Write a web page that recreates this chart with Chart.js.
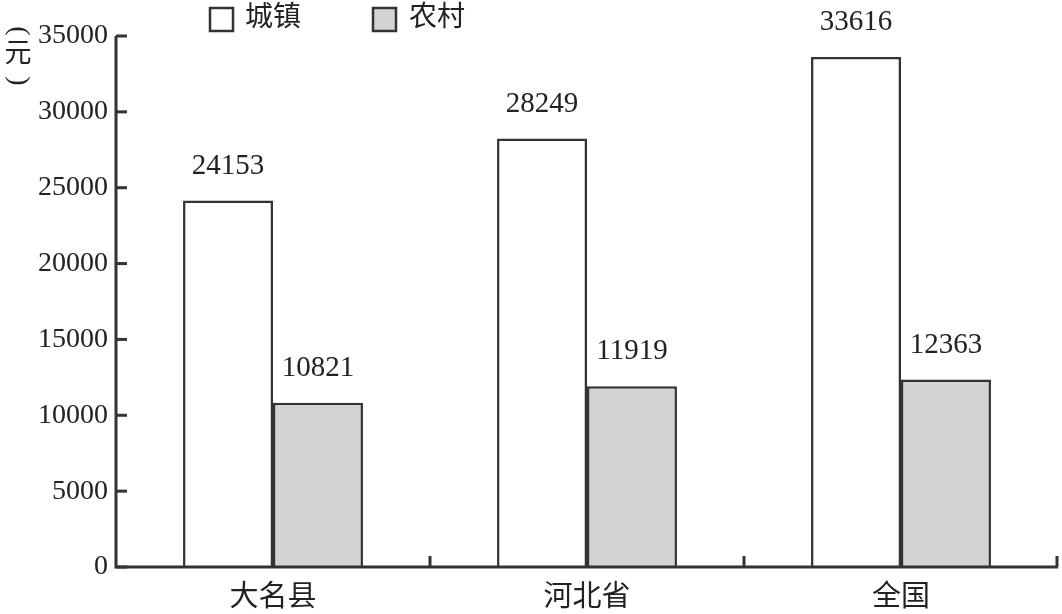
<!DOCTYPE html>
<html>
<head>
<meta charset="utf-8">
<script src="https://cdn.jsdelivr.net/npm/chart.js@4"></script>
<style>
  html, body { margin: 0; padding: 0; background: #fff; }
  #wrap { width: 1062px; height: 614px; }
</style>
</head>
<body>
<div id="wrap"><canvas id="chart" width="1062" height="614"></canvas></div>
<script>
// categories and series
const regions = ['大名县', '河北省', '全国'];
const urbanIncome = [24153, 28249, 33616];
const ruralIncome = [10821, 11919, 12363];
const seriesNames = ['城镇', '农村'];
const yTicks = [0, 5000, 10000, 15000, 20000, 25000, 30000, 35000];

const fontSerif = '"Liberation Serif", "Noto Sans CJK SC", serif';
const ink = '#333';

// draws the inward ticks, value labels, legend and the vertical unit label
const extras = {
  id: 'extras',
  afterDatasetsDraw(chart) {
    const ctx = chart.ctx;
    const x = chart.scales.x;
    const y = chart.scales.y;
    const area = chart.chartArea;

    ctx.save();
    ctx.strokeStyle = ink;
    ctx.lineWidth = 3;
    // axes
    ctx.beginPath();
    ctx.moveTo(area.left, area.top);
    ctx.lineTo(area.left, area.bottom);
    ctx.lineTo(area.right, area.bottom);
    ctx.stroke();
    // y ticks pointing into the plot
    yTicks.forEach(v => {
      const py = y.getPixelForValue(v);
      ctx.beginPath();
      ctx.moveTo(area.left, py);
      ctx.lineTo(area.left + 11, py);
      ctx.stroke();
    });
    // x ticks at category boundaries
    for (let i = 1; i <= regions.length; i++) {
      const px = (x.getPixelForValue(i - 1) + x.getPixelForValue(i)) / 2;
      const bx = i === regions.length ? area.right - 1 : px;
      ctx.beginPath();
      ctx.moveTo(bx, area.bottom);
      ctx.lineTo(bx, area.bottom - 11);
      ctx.stroke();
    }

    // value labels
    ctx.fillStyle = '#222';
    ctx.font = '29px ' + fontSerif;
    ctx.textAlign = 'center';
    ctx.textBaseline = 'bottom';
    chart.data.datasets.forEach((ds, di) => {
      chart.getDatasetMeta(di).data.forEach((bar, i) => {
        ctx.fillText(String(ds.data[i]), bar.x, bar.y - 20);
      });
    });

    // legend
    const items = [
      { box: 210, text: 245, fill: '#fff' },
      { box: 373, text: 409, fill: '#d3d3d3' }
    ];
    ctx.font = '28px ' + fontSerif;
    ctx.textAlign = 'left';
    ctx.textBaseline = 'middle';
    items.forEach((it, i) => {
      ctx.fillStyle = it.fill;
      ctx.fillRect(it.box, 8, 23, 23);
      ctx.lineWidth = 2.5;
      ctx.strokeRect(it.box, 8, 23, 23);
      ctx.fillStyle = '#222';
      ctx.fillText(seriesNames[i], it.text, 19);
    });

    // vertical unit label: parentheses turned, character upright
    ctx.textAlign = 'center';
    ctx.textBaseline = 'middle';
    ctx.font = '27px ' + fontSerif;
    ctx.fillText('元', 18, 55);
    ctx.font = '28px "Liberation Serif", serif';
    [[31, '('], [81, ')']].forEach(([cy, ch]) => {
      ctx.save();
      ctx.translate(18, cy);
      ctx.rotate(Math.PI / 2);
      ctx.fillText(ch, 0, 0);
      ctx.restore();
    });
    ctx.restore();
  }
};

new Chart(document.getElementById('chart'), {
  type: 'bar',
  data: {
    labels: regions,
    datasets: [
      {
        label: seriesNames[0],
        data: urbanIncome,
        backgroundColor: '#ffffff',
        borderColor: ink,
        borderWidth: 2.5,
        borderSkipped: 'bottom'
      },
      {
        label: seriesNames[1],
        data: ruralIncome,
        backgroundColor: '#d3d3d3',
        borderColor: ink,
        borderWidth: 2.5,
        borderSkipped: 'bottom'
      }
    ]
  },
  options: {
    responsive: false,
    animation: false,
    layout: { padding: { top: 36, right: 4, left: 0, bottom: 0 } },
    datasets: {
      bar: { categoryPercentage: 0.573, barPercentage: 1 }
    },
    plugins: {
      legend: { display: false },
      tooltip: { enabled: false }
    },
    scales: {
      x: {
        grid: { display: false, drawTicks: false },
        border: { display: false },
        ticks: {
          color: '#222',
          padding: 14,
          font: { family: fontSerif, size: 29 }
        },
        afterFit(scale) { scale.height = 47; }
      },
      y: {
        min: 0,
        max: 35000,
        afterBuildTicks(scale) { scale.ticks = yTicks.map(v => ({ value: v })); },
        grid: { display: false, drawTicks: false },
        border: { display: false },
        ticks: {
          color: '#222',
          padding: 8,
          font: { family: fontSerif, size: 28 },
          callback: v => String(v)
        },
        afterFit(scale) { scale.width = 116; }
      }
    }
  },
  plugins: [extras]
});
</script>
</body>
</html>
